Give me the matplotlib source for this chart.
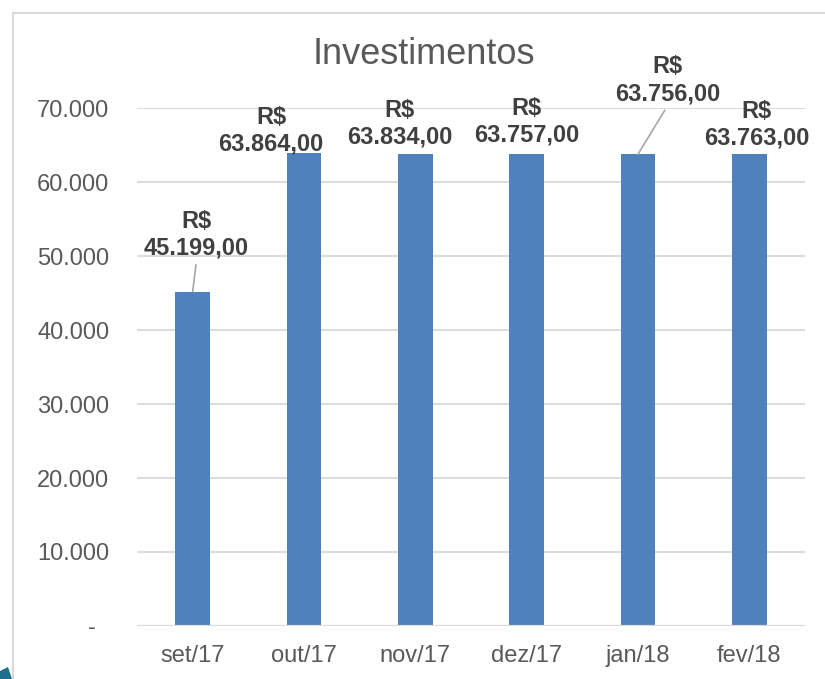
import matplotlib
matplotlib.use('Agg')
import matplotlib.pyplot as plt
from matplotlib.patches import Rectangle, Polygon

# Data
months = ['set/17', 'out/17', 'nov/17', 'dez/17', 'jan/18', 'fev/18']
values = [45199, 63864, 63834, 63757, 63756, 63763]
y_ticks = [0, 10000, 20000, 30000, 40000, 50000, 60000, 70000]

# label offsets from bar top, in pixels (layout only)
label_offsets = [(4, 57), (-33, 23), (-16, 30), (0, 32), (30, 74), (7, 29)]

W, H = 825, 679
plt.rcParams['font.family'] = ['Liberation Sans', 'DejaVu Sans']

fig = plt.figure(figsize=(W / 100, H / 100), dpi=100)
ax = fig.add_axes([137 / W, 1 - 626 / H, 668 / W, 518 / H])

x = list(range(len(months)))
ax.bar(x, values, width=0.31, color='#4f81bd', zorder=3)

ax.set_xlim(-0.5, len(months) - 0.5)
ax.set_ylim(0, 70000)
ax.set_yticks(y_ticks)


def fmt(v):
    if v == 0:
        return '-  '
    return f'{v:,}'.replace(',', '.')


ax.set_yticklabels([fmt(v) for v in y_ticks])
ax.set_xticks(x)
ax.set_xticklabels(months)
ax.tick_params(axis='both', length=0, labelsize=17, labelcolor='#595959')
ax.tick_params(axis='y', pad=20)
ax.tick_params(axis='x', pad=14)
ax.grid(axis='y', color='#d9d9d9', linewidth=1.3, zorder=0)
for s in ax.spines.values():
    s.set_visible(False)
ax.axhline(0, color='#d9d9d9', linewidth=1.6, zorder=4)

# data labels
for i, v in enumerate(values):
    dx, dy = label_offsets[i]
    txt = 'R$\n' + f'{v:,}'.replace(',', '.') + ',00'
    arrow = None
    if dy > 45:
        arrow = dict(arrowstyle='-', color='#a6a6a6', lw=1.2, shrinkA=2, shrinkB=0,
                     relpos=(0.5, 0))
    ax.annotate(txt, xy=(i, v), xytext=(dx, dy), textcoords='offset pixels',
                ha='center', va='center', fontsize=17, fontweight='bold',
                color='#404040', arrowprops=arrow, zorder=5)

fig.text(424 / W, 1 - 55 / H, 'Investimentos', ha='center', va='center',
         fontsize=26, color='#595959')

# chart area border
fig.patches.append(Rectangle((12.5 / W, -0.1), 2, 1 - 12.5 / H + 0.1,
                             transform=fig.transFigure, fill=False,
                             edgecolor='#d9d9d9', lw=1.5))
fig.patches.append(Polygon([(0, 1 - 671 / H), (8 / W, 1 - 667 / H), (12 / W, 0), (0, 0)],
                           closed=True, transform=fig.transFigure,
                           facecolor='#1e6f8c', edgecolor='none'))

fig.savefig('out.png', dpi=100)
